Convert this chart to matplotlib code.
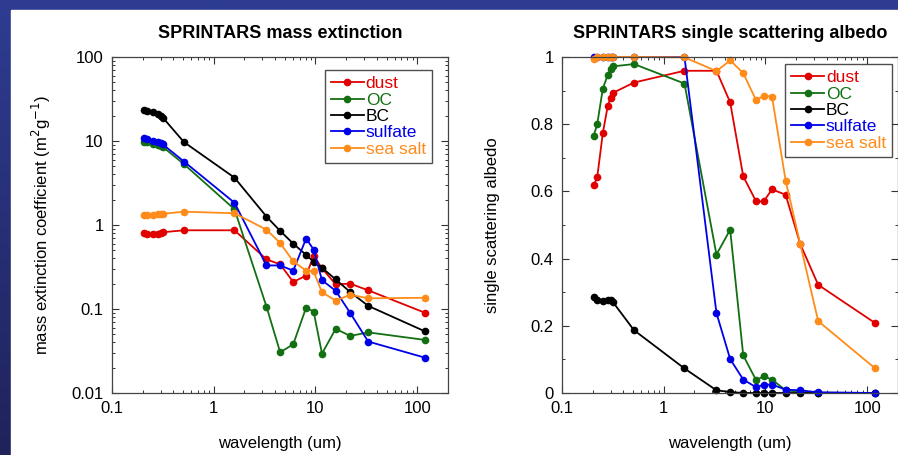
import numpy as np
import matplotlib
matplotlib.use('Agg')
import matplotlib.pyplot as plt
from matplotlib.ticker import LogLocator, FixedLocator, MultipleLocator, NullFormatter, FixedFormatter

plt.rcParams['font.family'] = ['Liberation Sans', 'DejaVu Sans']

# wavelengths (um)
wavelength = [0.205, 0.222, 0.252, 0.282, 0.300, 0.316, 0.51, 1.6, 3.3, 4.5,
              6.05, 8.1, 9.6, 11.6, 15.8, 22, 33, 120]

species = ['dust', 'OC', 'BC', 'sulfate', 'sea salt']
colors = ['#e00000', '#127012', '#000000', '#0000e8', '#ff8c1a']

# mass extinction coefficient (m2/g)
ext_dust = [0.796, 0.79, 0.79, 0.79, 0.81, 0.82, 0.865, 0.865, 0.39, 0.34,
            0.21, 0.25, 0.43, 0.305, 0.197, 0.2, 0.167, 0.090]
ext_oc = [9.7, 9.6, 9.2, 8.96, 8.7, 8.5, 5.3, 1.54, 0.107, 0.0305,
          0.038, 0.104, 0.093, 0.0294, 0.058, 0.0478, 0.0527, 0.0428]
ext_bc = [23.4, 23.0, 22.3, 20.8, 19.9, 19.0, 9.7, 3.66, 1.26, 0.85,
          0.60, 0.44, 0.366, 0.31, 0.225, 0.159, 0.109, 0.054]
ext_sulfate = [10.8, 10.5, 9.9, 9.7, 9.5, 9.1, 5.7, 1.84, 0.33, 0.33,
               0.286, 0.69, 0.51, 0.22, 0.165, 0.0895, 0.041, 0.0263]
ext_seasalt = [1.32, 1.32, 1.33, 1.35, 1.36, 1.36, 1.44, 1.38, 0.88, 0.61,
               0.37, 0.286, 0.28, 0.158, 0.126, 0.148, 0.134, 0.136]

# single scattering albedo
ssa_dust = [0.618, 0.642, 0.774, 0.855, 0.878, 0.893, 0.924, 0.959, 0.959, 0.865,
            0.645, 0.570, 0.570, 0.606, 0.590, 0.443, 0.322, 0.208]
ssa_oc = [0.766, 0.80, 0.906, 0.947, 0.964, 0.972, 0.979, 0.921, 0.412, 0.486,
          0.112, 0.038, 0.05, 0.04, 0.008, 0.003, 0.001, 0.0]
ssa_bc = [0.285, 0.278, 0.273, 0.276, 0.276, 0.271, 0.187, 0.073, 0.008, 0.003,
          0.0, 0.0, 0.0, 0.0, 0.0, 0.0, 0.0, 0.0]
ssa_sulfate = [1.0, 1.0, 1.0, 1.0, 1.0, 1.0, 1.0, 1.0, 0.238, 0.101,
               0.04, 0.017, 0.025, 0.025, 0.01, 0.008, 0.002, 0.0]
ssa_seasalt = [0.995, 0.999, 1.0, 1.0, 1.0, 1.0, 1.0, 0.999, 0.958, 0.99,
               0.952, 0.871, 0.885, 0.882, 0.632, 0.443, 0.214, 0.073]

ext_all = [ext_dust, ext_oc, ext_bc, ext_sulfate, ext_seasalt]
ssa_all = [ssa_dust, ssa_oc, ssa_bc, ssa_sulfate, ssa_seasalt]

fig = plt.figure(figsize=(8.98, 4.55), dpi=100)

# slide background: blue strip on top/left, white panel
bg = fig.add_axes([0, 0, 1, 1], zorder=-10)
grad = np.linspace(0, 1, 256).reshape(-1, 1)
cmap = matplotlib.colors.LinearSegmentedColormap.from_list('slide', ['#2e3d92', '#20225a'])
bg.imshow(grad, aspect='auto', cmap=cmap, extent=[0, 1, 0, 1], origin='upper')
bg.add_patch(plt.Rectangle((11 / 898, 0), 1, 1 - 10 / 455, color='white', zorder=2))
bg.set_xlim(0, 1)
bg.set_ylim(0, 1)
bg.axis('off')

ax1 = fig.add_axes([112 / 898, 62 / 455, 336 / 898, 336 / 455])
ax2 = fig.add_axes([562 / 898, 62 / 455, 336 / 898, 336 / 455])

# legend upper-right corner in axes fraction
leg_anchor = {ax1: (0.952, 0.961), ax2: (0.982, 0.979)}

for ax, data in [(ax1, ext_all), (ax2, ssa_all)]:
    for name, col, vals in zip(species, colors, data):
        ax.plot(wavelength, vals, color=col, lw=1.3, marker='o', ms=4.5,
                label=name, clip_on=False)
    ax.set_xscale('log')
    ax.set_xlim(0.1, 201)
    ax.xaxis.set_major_locator(FixedLocator([0.1, 1, 10, 100]))
    ax.xaxis.set_major_formatter(FixedFormatter(['0.1', '1', '10', '100']))
    ax.xaxis.set_minor_locator(LogLocator(base=10, subs=np.arange(2, 10), numticks=20))
    ax.xaxis.set_minor_formatter(NullFormatter())
    ax.tick_params(which='both', direction='in', top=True, right=True,
                   color='#333333', labelsize=12)
    ax.tick_params(which='major', length=5, width=0.8, pad=6)
    ax.tick_params(which='minor', length=2.5, width=0.7)
    for sp in ax.spines.values():
        sp.set_color('#444444')
        sp.set_linewidth(0.9)
    ax.set_xlabel('wavelength (um)', fontsize=12, labelpad=14)
    leg = ax.legend(loc='upper right', bbox_to_anchor=leg_anchor[ax], fontsize=12.5,
                    frameon=True, fancybox=False, edgecolor='#222222',
                    handlelength=1.9, handletextpad=0.1, labelspacing=0.07,
                    borderpad=0.35, borderaxespad=0)
    leg.get_frame().set_linewidth(1.0)
    for txt, col in zip(leg.get_texts(), colors):
        txt.set_color(col)

ax1.set_yscale('log')
ax1.set_ylim(0.01, 100)
ax1.yaxis.set_major_locator(FixedLocator([0.01, 0.1, 1, 10, 100]))
ax1.yaxis.set_major_formatter(FixedFormatter(['0.01', '0.1', '1', '10', '100']))
ax1.yaxis.set_minor_locator(LogLocator(base=10, subs=np.arange(2, 10), numticks=20))
ax1.yaxis.set_minor_formatter(NullFormatter())
ax1.set_ylabel('mass extinction coefficient (m$^2$g$^{-1}$)', fontsize=12, labelpad=13)
ax1.set_title('SPRINTARS mass extinction', fontsize=13, fontweight='bold', pad=14)

ax2.set_ylim(0, 1)
ax2.set_yticks([0, 0.2, 0.4, 0.6, 0.8, 1.0])
ax2.set_yticklabels(['0', '0.2', '0.4', '0.6', '0.8', '1'])
ax2.yaxis.set_minor_locator(MultipleLocator(0.1))
ax2.set_ylabel('single scattering albedo', fontsize=12, labelpad=22)
ax2.set_title('SPRINTARS single scattering albedo', fontsize=13, fontweight='bold', pad=14)

fig.savefig('out.png', dpi=100)
